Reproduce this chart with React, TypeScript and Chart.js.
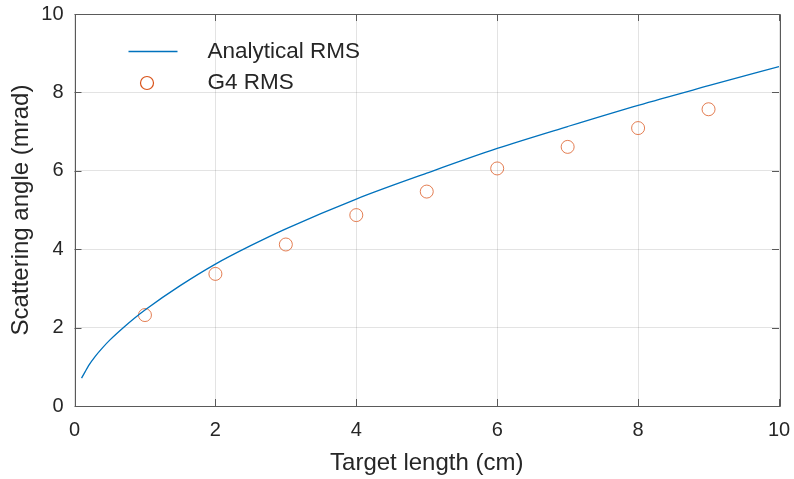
import React, { useEffect, useRef } from "react";
import { Chart, registerables } from "chart.js";

Chart.register(...registerables);

// Analytical RMS curve (x: target length in cm, y: scattering angle in mrad)
const analyticX = [0.1, 0.15, 0.2, 0.3, 0.4, 0.5, 0.7, 0.85, 1, 1.5, 2, 2.5, 3, 4, 5, 6, 7, 8, 9, 10];
const analyticY = [0.71, 0.87, 1.03, 1.28, 1.49, 1.68, 2.01, 2.24, 2.45, 3.07, 3.62, 4.09, 4.52, 5.28, 5.94, 6.57, 7.13, 7.67, 8.17, 8.66];

// G4 RMS simulation points
const g4X = [1, 2, 3, 4, 5, 6, 7, 8, 9];
const g4Y = [2.32, 3.37, 4.12, 4.87, 5.47, 6.06, 6.61, 7.09, 7.57];

const xTicks = [0, 2, 4, 6, 8, 10];
const yTicks = [0, 2, 4, 6, 8, 10];

const seriesNames = ["Analytical RMS", "G4 RMS"];
const xTitle = "Target length (cm)";
const yTitle = "Scattering angle (mrad)";

const TEXT = "#262626";
const AXIS = "#5a5a5a";
const BLUE = "#0072BD";
const ORANGE = "rgba(217,83,25,0.75)";
const FONT = "'Liberation Sans', Arial, sans-serif";

const framePlugin = {
  id: "matlabFrame",
  beforeDatasetsDraw(chart: any) {
    const { ctx, chartArea: a, scales } = chart;
    const xs = scales.x;
    const ys = scales.y;
    ctx.save();
    ctx.strokeStyle = AXIS;
    ctx.lineWidth = 1;
    ctx.beginPath();
    ctx.rect(Math.round(a.left) + 0.5, Math.round(a.top) + 0.5, Math.round(a.right - a.left), Math.round(a.bottom - a.top));
    ctx.stroke();
    const tl = 7;
    ctx.beginPath();
    xTicks.forEach((v) => {
      const px = Math.round(xs.getPixelForValue(v)) + 0.5;
      ctx.moveTo(px, a.bottom);
      ctx.lineTo(px, a.bottom - tl);
      ctx.moveTo(px, a.top);
      ctx.lineTo(px, a.top + tl);
    });
    yTicks.forEach((v) => {
      const py = Math.round(ys.getPixelForValue(v)) + 0.5;
      ctx.moveTo(a.left, py);
      ctx.lineTo(a.left + tl, py);
      ctx.moveTo(a.right, py);
      ctx.lineTo(a.right - tl, py);
    });
    ctx.stroke();
    ctx.restore();
  },
  afterDraw(chart: any) {
    const { ctx, chartArea: a } = chart;
    ctx.save();
    ctx.font = `22.5px ${FONT}`;
    ctx.fillStyle = TEXT;
    ctx.textBaseline = "middle";
    ctx.textAlign = "left";
    const y1 = a.top + 37.5;
    const y2 = a.top + 69;
    ctx.strokeStyle = BLUE;
    ctx.lineWidth = 1.5;
    ctx.beginPath();
    ctx.moveTo(a.left + 54, y1);
    ctx.lineTo(a.left + 103, y1);
    ctx.stroke();
    ctx.fillText(seriesNames[0], a.left + 133, y1);
    ctx.strokeStyle = "#D95319";
    ctx.lineWidth = 1.2;
    ctx.beginPath();
    ctx.arc(a.left + 72.5, y2, 6.5, 0, Math.PI * 2);
    ctx.stroke();
    ctx.fillText(seriesNames[1], a.left + 133, y2);
    ctx.restore();
  },
};

export default function App() {
  const ref = useRef<HTMLCanvasElement | null>(null);
  useEffect(() => {
    if (!ref.current) return;
    const chart = new Chart(ref.current, {
      type: "scatter",
      data: {
        datasets: [
          {
            label: seriesNames[0],
            data: analyticX.map((x, i) => ({ x, y: analyticY[i] })),
            showLine: true,
            borderColor: BLUE,
            borderWidth: 1.3,
            pointRadius: 0,
            cubicInterpolationMode: "monotone",
            fill: false,
          },
          {
            label: seriesNames[1],
            data: g4X.map((x, i) => ({ x, y: g4Y[i] })),
            showLine: false,
            borderColor: ORANGE,
            backgroundColor: "rgba(0,0,0,0)",
            borderWidth: 1,
            pointRadius: 6.5,
            pointStyle: "circle",
          },
        ],
      },
      options: {
        animation: false,
        responsive: false,
        maintainAspectRatio: false,
        layout: { padding: { top: 14, right: 15, bottom: 0, left: 0 } },
        plugins: {
          legend: { display: false },
          tooltip: { enabled: false },
        },
        scales: {
          x: {
            type: "linear",
            min: 0,
            max: 10,
            afterBuildTicks: (s: any) => {
              s.ticks = xTicks.map((v) => ({ value: v }));
            },
            afterFit: (s: any) => {
              s.height = 73;
              s.paddingLeft = 0;
              s.paddingRight = 0;
            },
            grid: { color: "rgba(38,38,38,0.13)", drawTicks: false, lineWidth: 1 },
            border: { display: false },
            ticks: { color: TEXT, font: { family: FONT, size: 20 }, padding: 12, maxRotation: 0 },
            title: {
              display: true,
              text: xTitle,
              color: TEXT,
              font: { family: FONT, size: 24 },
              padding: { top: 0, bottom: 1 },
            },
          },
          y: {
            type: "linear",
            min: 0,
            max: 10,
            afterBuildTicks: (s: any) => {
              s.ticks = yTicks.map((v) => ({ value: v }));
            },
            afterFit: (s: any) => {
              s.width = 74.5;
              s.paddingTop = 0;
              s.paddingBottom = 0;
            },
            grid: { color: "rgba(38,38,38,0.13)", drawTicks: false, lineWidth: 1 },
            border: { display: false },
            ticks: { color: TEXT, font: { family: FONT, size: 20 }, padding: 11 },
            title: {
              display: true,
              text: yTitle,
              color: TEXT,
              font: { family: FONT, size: 24 },
              padding: { top: 7, bottom: 0 },
            },
          },
        },
      },
      plugins: [framePlugin],
    } as any);
    return () => chart.destroy();
  }, []);
  return (
    <div style={{ position: "fixed", left: 0, top: 0, width: 794, height: 479, background: "#fff" }}>
      <canvas ref={ref} width={794} height={479} style={{ display: "block" }} />
    </div>
  );
}
